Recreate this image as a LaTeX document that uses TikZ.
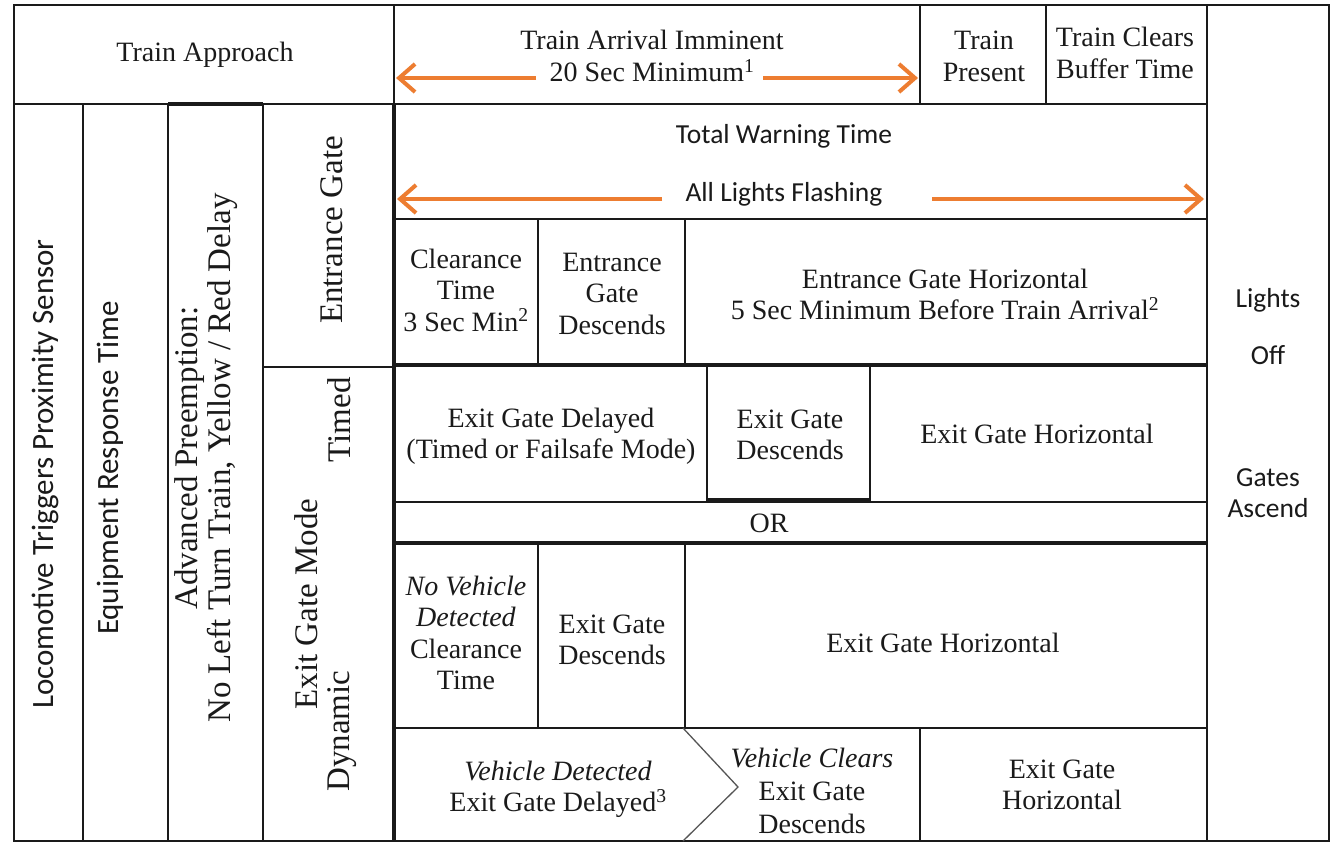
\documentclass[tikz,border=0pt]{standalone}
\usepackage{fontspec}
\setmainfont{Liberation Serif}
\newfontfamily\calibri{Carlito}
\usetikzlibrary{arrows.meta}
\definecolor{ink}{HTML}{1A1A1A}
\definecolor{orng}{HTML}{ED7D31}
\definecolor{chev}{HTML}{555555}
\newcommand\cellstack[1]{\begin{tabular}[t]{@{}c@{}}#1\end{tabular}}
\begin{document}
\begin{tikzpicture}[x=1pt,y=-1pt,
  gridline/.style={line width=1.8pt,draw=ink},
  heavy/.style={line width=3.2pt,draw=ink},
  chevline/.style={line width=1.3pt,draw=chev},
  txt/.style={font=\fontsize{28}{31.5}\selectfont,inner sep=0pt,anchor=base,text=ink},
  stxt/.style={font=\calibri\fontsize{27.5}{31.5}\selectfont,inner sep=0pt,anchor=base,text=ink},
  vtxt/.style={font=\fontsize{33}{33}\selectfont,inner sep=0pt,anchor=base,rotate=90,text=ink},
  vstxt/.style={font=\calibri\fontsize{31}{33}\selectfont,inner sep=0pt,anchor=base,rotate=90,text=ink},
  oarrow/.style={draw=orng,line width=4pt,-{Straight Barb[length=16pt,width=28pt]}},
]
\useasboundingbox (0,0) rectangle (1331,843);
\fill[white] (0,0) rectangle (1331,843);

% ---- grid lines ----
\draw[gridline] (14,5) rectangle (1329,841);
\draw[gridline] (14,104) -- (1207,104);
\draw[heavy] (168,104) -- (263,104);
\draw[gridline] (394,5) -- (394,104);
\draw[heavy] (394,104) -- (394,841);
\draw[gridline] (920,5) -- (920,104);
\draw[gridline] (1046,5) -- (1046,104);
\draw[gridline] (1207,5) -- (1207,841);
\draw[gridline] (83,104) -- (83,841);
\draw[gridline] (168,104) -- (168,841);
\draw[gridline] (263,104) -- (263,841);
\draw[gridline] (263,367) -- (394,367);
\draw[gridline] (394,219) -- (1207,219);
\draw[heavy] (394,365) -- (1207,365);
\draw[gridline] (394,502) -- (1207,502);
\draw[heavy] (707,500) -- (870,500);
\draw[heavy] (394,543) -- (1207,543);
\draw[gridline] (394,728) -- (1207,728);
\draw[gridline] (538,219) -- (538,365);
\draw[gridline] (685,219) -- (685,365);
\draw[gridline] (707,365) -- (707,502);
\draw[gridline] (870,365) -- (870,502);
\draw[gridline] (538,543) -- (538,728);
\draw[gridline] (685,543) -- (685,728);
\draw[gridline] (920,728) -- (920,841);
\draw[chevline] (683,728) -- (738,787) -- (683,841);

% ---- top row ----
\node[txt] (approach) at (205,62) {Train Approach};
\node[txt] (imminent) at (652,50) {\cellstack{Train Arrival Imminent\\20 Sec Minimum\textsuperscript{1}}};
\node[txt] (present) at (984,50) {\cellstack{Train\\Present}};
\node[txt] (clears) at (1125,47) {\cellstack{Train Clears\\Buffer Time}};

\coordinate (imLs) at (536,78);
\coordinate (imLe) at (396,78);
\coordinate (imRs) at (763,78);
\coordinate (imRe) at (918,78);
\draw[oarrow] (imLs) -- (imLe);
\draw[oarrow] (imRs) -- (imRe);

% ---- right column ----
\node[stxt] (lights) at (1268,307) {Lights};
\node[stxt] (off) at (1268,364) {Off};
\node[stxt] (gates) at (1268,486) {\cellstack{Gates\\Ascend}};

% ---- vertical labels ----
\node[vstxt] (loco) at (53,474) {Locomotive Triggers Proximity Sensor};
\node[vstxt] (equip) at (118,468) {Equipment Response Time};
\node[vtxt] (adv) at (197,458) {\begin{tabular}[t]{@{}c@{}}Advanced Preemption:\\No Left Turn Train, Yellow / Red Delay\end{tabular}};
\node[vtxt] (entr) at (342,230) {Entrance Gate};
\node[vtxt] (egm) at (317,604) {Exit Gate Mode};
\node[vtxt] (timed) at (350,420) {Timed};
\node[vtxt] (dyn) at (349,731) {Dynamic};

% ---- warning time ----
\node[stxt] (totalwarn) at (784,143) {Total Warning Time};
\begin{scope}
\clip (600,150) rectangle (1000,205);
\node[stxt] (flashing) at (784,201) {All Lights Flashing};
\end{scope}
\coordinate (flLs) at (662,199);
\coordinate (flLe) at (397,199);
\coordinate (flRs) at (932,199);
\coordinate (flRe) at (1204,199);
\draw[oarrow] (flLs) -- (flLe);
\draw[oarrow] (flRs) -- (flRe);

% ---- entrance gate row ----
\node[txt] (clearance) at (466,268) {\cellstack{Clearance\\Time\\3 Sec Min\textsuperscript{2}}};
\node[txt] (entdesc) at (612,271) {\cellstack{Entrance\\Gate\\Descends}};
\node[txt] (enthoriz) at (945,288) {\cellstack{Entrance Gate Horizontal\\5 Sec Minimum Before Train Arrival\textsuperscript{2}}};

% ---- timed exit row ----
\node[txt] (exitdelayed) at (551,427) {\cellstack{Exit Gate Delayed\\(Timed or Failsafe Mode)}};
\node[txt] (exitdescA) at (790,428) {\cellstack{Exit Gate\\Descends}};
\node[txt] (exithorizA) at (1037,443) {Exit Gate Horizontal};
\node[txt] (orlabel) at (769,532) {OR};

% ---- dynamic rows ----
\node[txt] (novehicle) at (466,595) {\cellstack{\textit{No Vehicle}\\\textit{Detected}\\Clearance\\Time}};
\node[txt] (exitdescB) at (612,633) {\cellstack{Exit Gate\\Descends}};
\node[txt] (exithorizB) at (943,652) {Exit Gate Horizontal};
\node[txt] (vehdet) at (558,780) {\cellstack{\textit{Vehicle Detected}\\Exit Gate Delayed\textsuperscript{3}}};
\node[txt] (vehclears) at (812,767) {\cellstack{\textit{Vehicle Clears}\\[1.5pt]Exit Gate\\[2pt]Descends}};
\node[txt] (exithorizC) at (1062,778) {\cellstack{Exit Gate\\Horizontal}};
\end{tikzpicture}
\end{document}
